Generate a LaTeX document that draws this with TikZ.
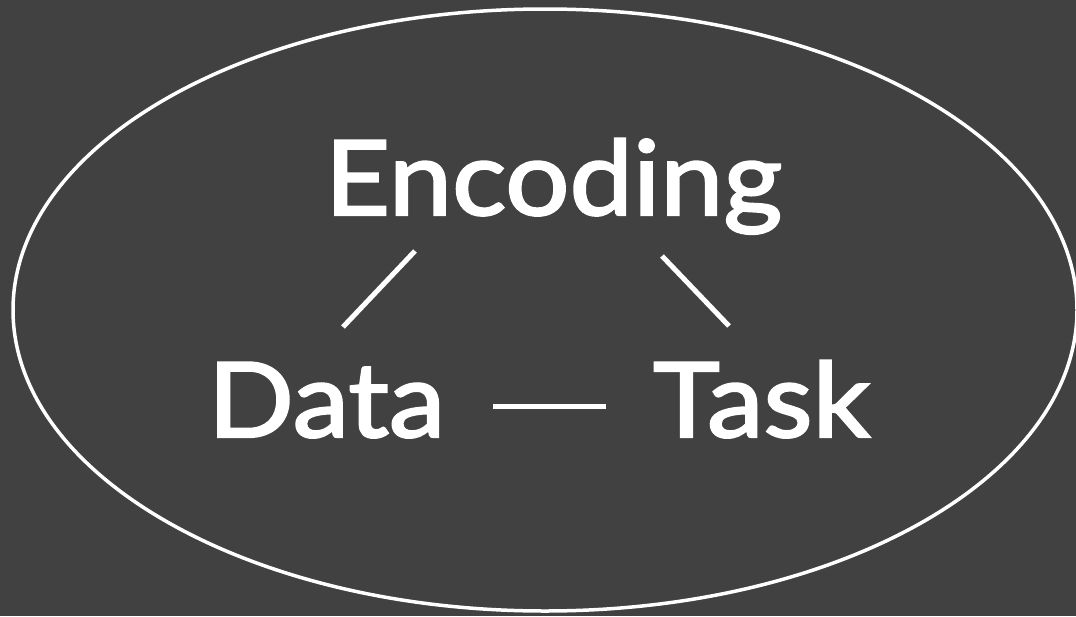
\documentclass[tikz,border=0pt]{standalone}
\usepackage{fontspec}
\setmainfont{Lato}[FakeStretch=1.09,FakeBold=2.2]
\definecolor{bg}{RGB}{65,65,65}
\begin{document}
\begin{tikzpicture}[x=1pt,y=-1pt,
  lbl/.style={text=white, inner sep=0pt, font=\fontsize{104}{110}\selectfont, anchor=base},
  link/.style={white, line width=5pt},
  rim/.style={white, line width=3.5pt}]
\fill[bg] (0,0) rectangle (1076,616);
\useasboundingbox (0,0) rectangle (1076,616);
\draw[rim] (545,310) ellipse [x radius=532, y radius=301];
\node[lbl] (enc) at (553.5,215) {Encoding};
\node[lbl] (dat) at (326.5,437) {Data};
\node[lbl] (tsk) at (761.5,437) {Task};
\coordinate (e1) at (415,251);
\coordinate (d1) at (343,327);
\coordinate (e2) at (662,256);
\coordinate (t2) at (729,326);
\coordinate (d3) at (493,406);
\coordinate (t3) at (606,406);
\draw[link] (e1) -- (d1);
\draw[link] (e2) -- (t2);
\draw[link] (d3) -- (t3);
\end{tikzpicture}
\end{document}
